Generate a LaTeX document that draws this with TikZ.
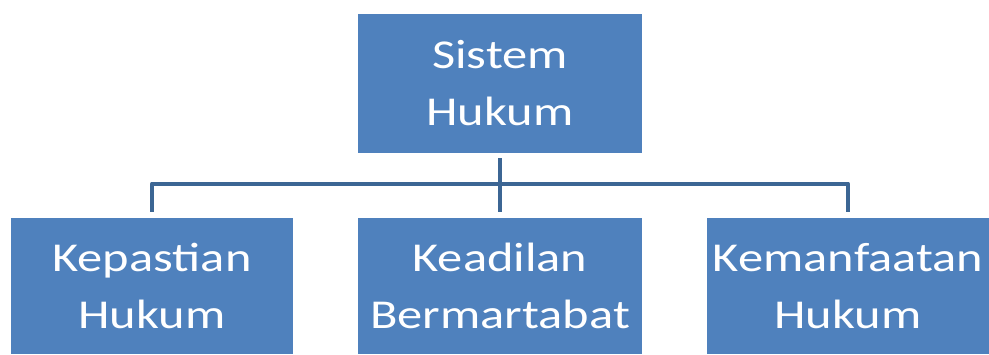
\documentclass[tikz,border=0pt]{standalone}
\usepackage{fontspec}
\setmainfont[FakeStretch=1.23]{Carlito}
\definecolor{boxblue}{HTML}{4F81BD}
\definecolor{linkblue}{HTML}{3C6694}

\begin{document}
\begin{tikzpicture}[x=1pt,y=1pt,line cap=butt,line join=round,
    hbox/.style={fill=boxblue,draw=none,inner sep=0pt,text=white,align=center,
      font=\fontsize{41}{57}\selectfont},
    link/.style={draw=linkblue,line width=4.5pt}]
  \useasboundingbox (0,0) rectangle (989,354);
  \node[hbox,minimum width=284,minimum height=139] (sistem) at (500,270.5) {Sistem\\Hukum};
  \node[hbox,minimum width=282,minimum height=136] (kepastian) at (152,68) {Kepastian\\Hukum};
  \node[hbox,minimum width=284,minimum height=136] (keadilan) at (500,68) {Keadilan\\Bermartabat};
  \node[hbox,minimum width=282,minimum height=136] (kemanfaatan) at (848,68) {Kemanfaatan\\Hukum};
  \draw[link,shorten <=5pt,shorten >=6pt] (sistem.south) -- (keadilan.north);
  \draw[link,shorten <=6pt,shorten >=6pt] (kepastian.north) -- ++(0,34) -| (kemanfaatan.north);
\end{tikzpicture}
\end{document}
